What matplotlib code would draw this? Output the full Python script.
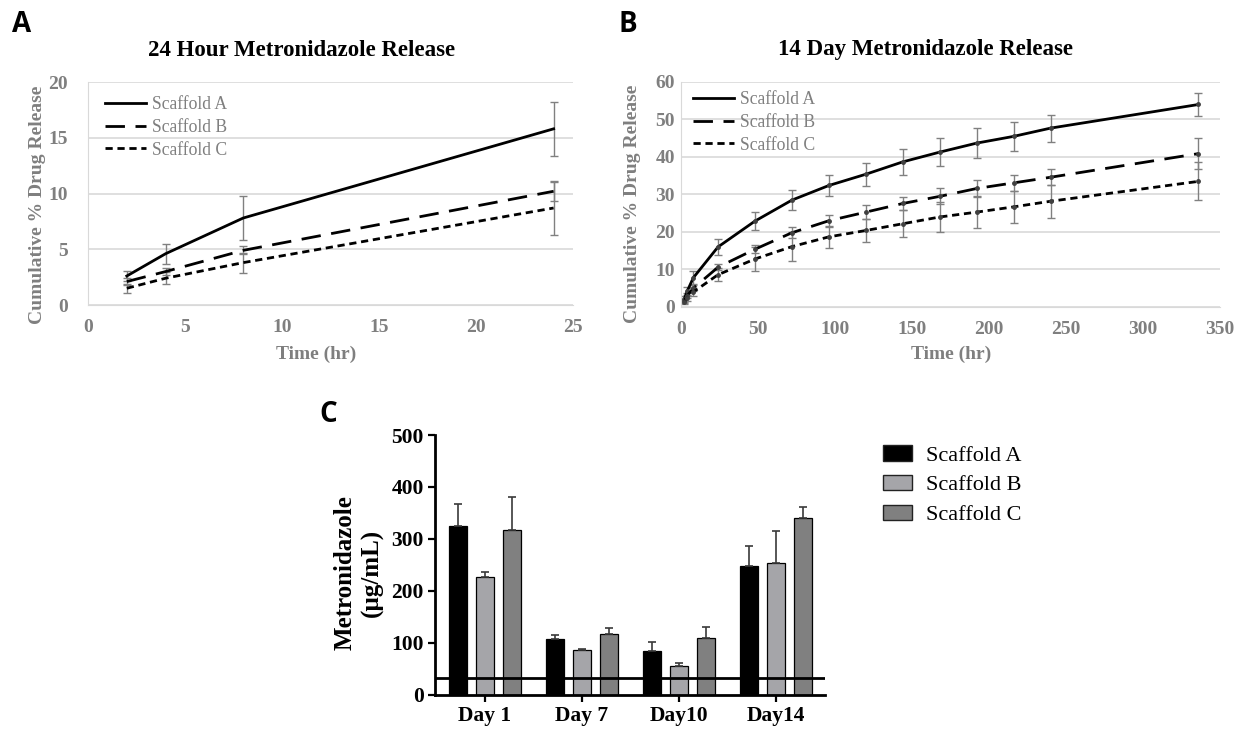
import numpy as np
import matplotlib
matplotlib.use('Agg')
from matplotlib import pyplot as plt
from matplotlib.patches import Patch
from matplotlib.lines import Line2D

# panel A: 24 hour release
hours_24 = [2, 4, 8, 24]
a24_mean = [2.6, 4.6, 7.8, 15.8]
a24_err = [0.45, 0.9, 1.95, 2.4]
b24_mean = [2.1, 3.0, 4.9, 10.2]
b24_err = [0.3, 0.3, 0.35, 0.85]
c24_mean = [1.5, 2.4, 3.8, 8.7]
c24_err = [0.4, 0.55, 0.9, 2.4]

# panel B: 14 day release
hours_14 = [2, 4, 8, 24, 48, 72, 96, 120, 144, 168, 192, 216, 240, 336]
a14_mean = [2.0, 4.2, 7.8, 16.0, 22.9, 28.5, 32.4, 35.4, 38.7, 41.3, 43.7, 45.5, 47.7, 54.0]
a14_err = [0.8, 1.2, 1.8, 2.2, 2.4, 2.6, 2.9, 3.1, 3.5, 3.8, 3.9, 3.8, 3.6, 3.0]
b14_mean = [1.6, 3.0, 5.0, 10.6, 15.4, 19.8, 23.0, 25.3, 27.6, 29.5, 31.6, 33.1, 34.6, 40.9]
b14_err = [0.5, 0.7, 0.8, 0.8, 1.0, 1.4, 1.6, 1.8, 1.8, 2.1, 2.2, 2.2, 2.2, 4.2]
c14_mean = [1.2, 2.5, 4.0, 8.6, 12.8, 16.1, 18.7, 20.4, 22.2, 24.0, 25.3, 26.7, 28.2, 33.5]
c14_err = [0.5, 0.8, 1.0, 1.8, 3.2, 3.9, 3.0, 3.1, 3.6, 3.9, 4.2, 4.3, 4.4, 5.1]

# panel C: concentration per day
days = ['Day 1', 'Day 7', 'Day10', 'Day14']
conc_a = [325, 108, 85, 249]
conc_a_err = [42, 7, 17, 38]
conc_b = [226, 87, 56, 253]
conc_b_err = [10, 1, 5, 62]
conc_c = [318, 118, 109, 340]
conc_c_err = [62, 10, 21, 21]
mic_line = 33

scaffolds = ['Scaffold A', 'Scaffold B', 'Scaffold C']

plt.rcParams['font.family'] = ['Liberation Serif', 'DejaVu Serif']

GRAY_TXT = '#7f7f7f'
GRID = '#d9d9d9'
ERR = '#808080'
line_styles = [
    dict(linestyle='-'),
    dict(linestyle=(0, (7, 3.8))),
    dict(linestyle=(0, (2.6, 1.7))),
]

fig = plt.figure(figsize=(12.48, 7.33), dpi=100)
W, H = 1248.0, 733.0
PT = 72.0 / 100  # points per pixel


def px_axes(left, top, right, bottom):
    return fig.add_axes([left / W, 1 - bottom / H, (right - left) / W, (bottom - top) / H])


def style_release_axes(ax, tickpad_y, tickpad_x):
    for side in ['top', 'right']:
        ax.spines[side].set_visible(False)
    ax.spines['left'].set_color(GRID)
    ax.spines['bottom'].set_color(GRID)
    ax.grid(axis='y', color=GRID, linewidth=1.2)
    ax.set_axisbelow(True)
    ax.tick_params(length=0, labelsize=14, labelcolor=GRAY_TXT)
    ax.tick_params(axis='y', pad=tickpad_y * PT)
    ax.tick_params(axis='x', pad=tickpad_x * PT)
    for lab in ax.get_xticklabels() + ax.get_yticklabels():
        lab.set_fontweight('bold')


def release_panel(ax, x, series, xmax, ymax, ystep, markers):
    for (mean, err), ls in zip(series, line_styles):
        ax.errorbar(x, mean, yerr=err, color='black', ecolor=ERR, elinewidth=1.0,
                    capsize=3, capthick=1.0, linewidth=2,
                    marker='o' if markers else None, markersize=2.5,
                    markerfacecolor='#404040', markeredgecolor='#404040', **ls)
    ax.set_xlim(0, xmax)
    ax.set_ylim(0, ymax)
    ax.set_yticks(np.arange(0, ymax + 1, ystep))
    ax.set_xlabel('Time (hr)', fontsize=14, fontweight='bold', color=GRAY_TXT)
    ax.set_ylabel('Cumulative % Drug Release', fontsize=14, fontweight='bold', color=GRAY_TXT)
    handles = [Line2D([], [], color='black', linewidth=2, **ls) for ls in line_styles]
    leg = ax.legend(handles, scaffolds, loc='upper left', frameon=False, fontsize=12.7,
                    handlelength=2.3, handletextpad=0.35, labelspacing=0.33, borderpad=0,
                    borderaxespad=0)
    for t in leg.get_texts():
        t.set_color(GRAY_TXT)
    return leg


# ---- A ----
axA = px_axes(88, 82, 573, 305)
legA = release_panel(axA, hours_24,
                     [(a24_mean, a24_err), (b24_mean, b24_err), (c24_mean, c24_err)],
                     25, 20, 5, markers=False)
legA.set_bbox_to_anchor((17 / 485, 1 - 14 / 223), transform=axA.transAxes)
axA.set_xticks(np.arange(0, 26, 5))
style_release_axes(axA, 20, 14)
axA.yaxis.set_label_coords(-0.087, 0.45)
axA.xaxis.set_label_coords((316 - 88) / 485, -(346 - 305) / 223)
fig.text(302 / W, 1 - 50 / H, '24 Hour Metronidazole Release', ha='center', va='center',
         fontsize=16.5, fontweight='bold')

# ---- B ----
axB = px_axes(681, 82, 1220, 307)
legB = release_panel(axB, hours_14,
                     [(a14_mean, a14_err), (b14_mean, b14_err), (c14_mean, c14_err)],
                     350, 60, 10, markers=True)
legB.set_bbox_to_anchor((12 / 539, 1 - 9 / 225), transform=axB.transAxes)
axB.set_xticks(np.arange(0, 351, 50))
style_release_axes(axB, 6, 14)
axB.yaxis.set_label_coords(-0.074, 0.458)
axB.xaxis.set_label_coords((951 - 681) / 539, -(346 - 307) / 225)
fig.text(925 / W, 1 - 50 / H, '14 Day Metronidazole Release', ha='center', va='center',
         fontsize=16.5, fontweight='bold')

# ---- C ----
axC = px_axes(435, 435, 825, 695)
x = np.arange(len(days))
bw = 0.186
off = 0.278
bar_colors = ['#000000', '#a5a5a9', '#808080']
groups = [(conc_a, conc_a_err), (conc_b, conc_b_err), (conc_c, conc_c_err)]
for i, ((vals, errs), col) in enumerate(zip(groups, bar_colors)):
    axC.bar(x + (i - 1) * off, vals, width=bw, color=col, edgecolor='black', linewidth=0.9,
            yerr=[np.zeros(len(errs)), errs], capsize=3,
            error_kw=dict(ecolor='#3a3a3a', elinewidth=1.2, capthick=1.2), zorder=2)
axC.axhline(mic_line, color='black', linewidth=2, zorder=3)
axC.set_xlim(-0.515, 3.505)
axC.set_ylim(0, 500)
axC.set_yticks(np.arange(0, 501, 100))
axC.set_xticks(x)
axC.set_xticklabels(days)
for side in ['top', 'right']:
    axC.spines[side].set_visible(False)
for side in ['left', 'bottom']:
    axC.spines[side].set_linewidth(2)
axC.tick_params(direction='out', length=5, width=1.6, labelsize=15.5, pad=3)
for lab in axC.get_xticklabels() + axC.get_yticklabels():
    lab.set_fontweight('bold')
axC.set_ylabel('Metronidazole\n(µg/mL)', fontsize=18, fontweight='bold', linespacing=1.25)
axC.yaxis.set_label_coords(-0.13, 0.47)

legC_handles = [Patch(facecolor=c, edgecolor='#222222', linewidth=1) for c in bar_colors]
fig.legend(legC_handles, scaffolds, loc='upper left', bbox_to_anchor=(883 / W, 1 - 445 / H),
           frameon=False, fontsize=16, handlelength=1.3, handleheight=0.7,
           handletextpad=0.65, labelspacing=0.42, borderpad=0, borderaxespad=0)

# panel letters
for letter, px, py in [('A', 22, 25), ('B', 628, 25), ('C', 328, 415)]:
    fig.text(px / W, 1 - py / H, letter, ha='center', va='center', fontsize=20,
             fontweight='bold', family='Open Sans')

fig.savefig('out.png', dpi=100)
